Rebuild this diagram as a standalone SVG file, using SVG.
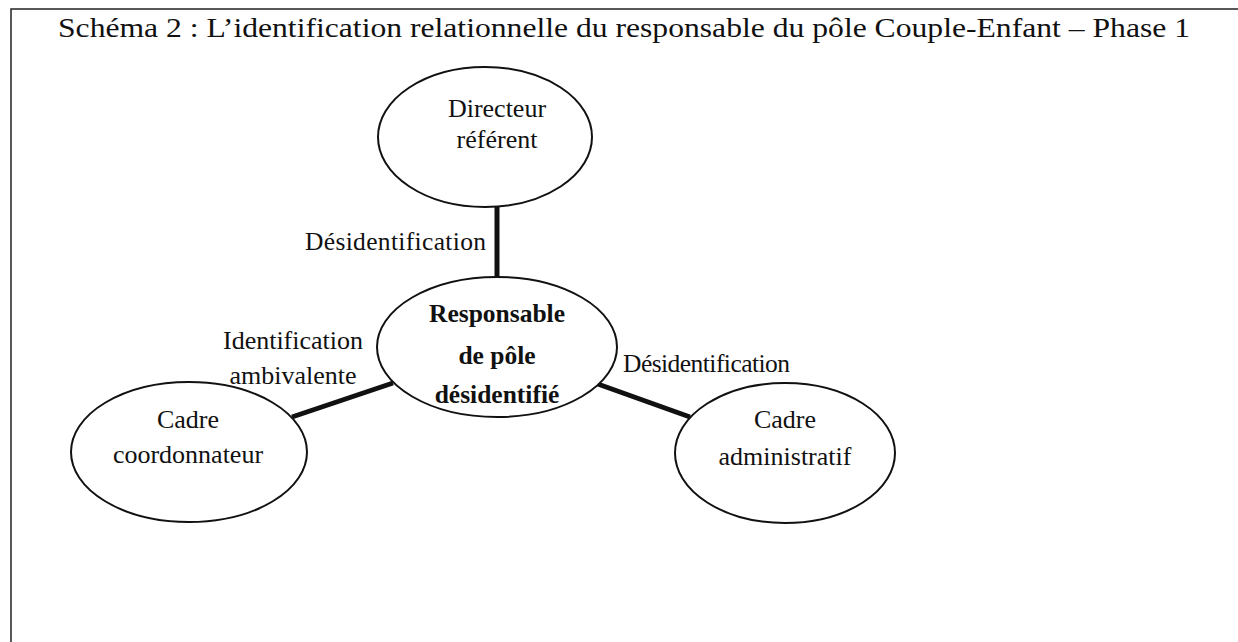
<svg xmlns="http://www.w3.org/2000/svg" width="1238" height="642" viewBox="0 0 1238 642">
  <style>
    text { font-family: "Liberation Serif", "Times New Roman", serif; fill: #111; }
    .t { font-size: 28px; }
    .n { font-size: 26px; text-anchor: middle; }
    .b { font-size: 25.5px; text-anchor: middle; font-weight: bold; }
    .l { font-size: 25.5px; }
    .e { fill: #fff; stroke: #111; stroke-width: 2; }
    .c { stroke: #111; stroke-width: 5; fill: none; }
    .f { stroke: #222; stroke-width: 1.5; fill: none; }
  </style>
  <rect width="1238" height="642" fill="#fff"/>
  <g id="frame">
    <path class="f" d="M11,642 V9 H1238"/>
  </g>
  <text class="t" x="58" y="37" textLength="1132" lengthAdjust="spacingAndGlyphs">Schéma 2 : L’identification relationnelle du responsable du pôle Couple-Enfant – Phase 1</text>
  <g id="connectors">
    <line class="c" x1="497" y1="207" x2="497" y2="278"/>
    <line class="c" x1="292" y1="417" x2="393" y2="383"/>
    <line class="c" x1="595" y1="383" x2="690" y2="417"/>
    <text class="l" x="305" y="250" textLength="181">Désidentification</text>
    <text class="n" x="293" y="349">Identification</text>
    <text class="n" x="293" y="384">ambivalente</text>
    <text class="l" x="623" y="372" textLength="167">Désidentification</text>
  </g>
  <g id="directeur">
    <ellipse class="e" cx="485" cy="137" rx="107" ry="70"/>
    <text class="n" x="497" y="117">Directeur</text>
    <text class="n" x="497" y="148">référent</text>
  </g>
  <g id="responsable">
    <ellipse class="e" cx="497" cy="347" rx="120" ry="70"/>
    <text class="b" x="497" y="322">Responsable</text>
    <text class="b" x="497" y="364">de pôle</text>
    <text class="b" x="497" y="403">désidentifié</text>
  </g>
  <g id="coordonnateur">
    <ellipse class="e" cx="189" cy="452" rx="118" ry="70"/>
    <text class="n" x="188" y="428">Cadre</text>
    <text class="n" x="188" y="463">coordonnateur</text>
  </g>
  <g id="administratif">
    <ellipse class="e" cx="785" cy="453" rx="110" ry="70"/>
    <text class="n" x="785" y="428">Cadre</text>
    <text class="n" x="785" y="465">administratif</text>
  </g>
</svg>
